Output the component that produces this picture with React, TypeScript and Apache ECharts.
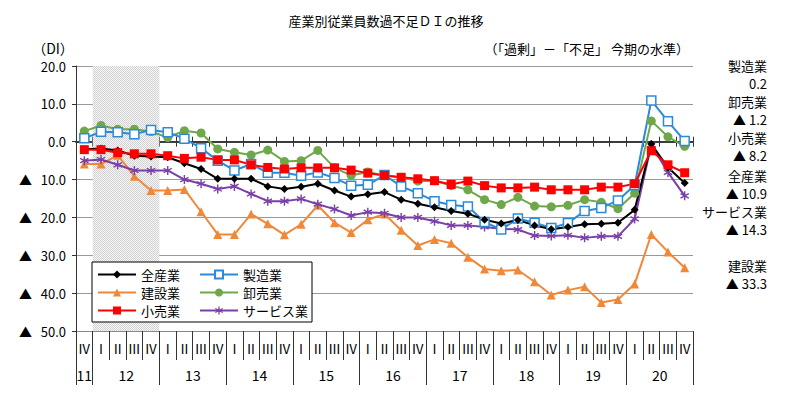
import React, { useEffect, useRef } from 'react';
import * as echarts from 'echarts';

const years = ['11', '12', '13', '14', '15', '16', '17', '18', '19', '20'];
const quarters = ['Ⅰ', 'Ⅱ', 'Ⅲ', 'Ⅳ'];
const categories: string[] = ['11Ⅳ', ...years.slice(1).flatMap((y) => quarters.map((q) => y + q))];

const allIndustry = [-2.0, -1.8, -2.3, -3.7, -3.9, -4.1, -5.7, -7.2, -9.8, -9.8, -9.8, -11.8, -12.5, -11.9, -11.1, -12.9, -14.5, -13.9, -13.3, -15.3, -16.4, -17.3, -18.3, -19.0, -20.6, -21.6, -20.7, -22.1, -23.1, -22.5, -21.8, -21.7, -21.4, -18.0, -0.6, -6.8, -10.9];
const manufacturing = [0.9, 2.6, 2.5, 2.0, 3.1, 2.5, 0.8, -1.7, -5.0, -7.6, -5.9, -8.2, -8.2, -9.0, -8.1, -9.6, -11.6, -11.4, -8.8, -11.8, -13.6, -15.7, -16.7, -17.1, -21.2, -23.2, -20.3, -21.4, -22.8, -21.5, -18.3, -17.5, -15.5, -11.5, 10.9, 5.4, 0.2];
const construction = [-5.9, -5.9, -3.6, -9.1, -12.9, -12.9, -12.6, -18.5, -24.5, -24.5, -19.1, -21.7, -24.6, -21.8, -16.8, -21.4, -24.0, -20.6, -19.1, -23.4, -27.4, -25.8, -26.8, -30.5, -33.6, -34.1, -33.9, -37.0, -40.5, -39.2, -38.3, -42.5, -41.7, -37.6, -24.5, -29.1, -33.3];
const wholesale = [2.8, 4.3, 3.3, 3.3, 2.7, 1.1, 2.9, 2.3, -1.9, -2.8, -3.5, -2.2, -5.2, -5.0, -2.3, -6.9, -8.9, -8.0, -8.9, -9.4, -10.4, -10.3, -11.6, -12.7, -15.3, -16.6, -14.7, -17.0, -17.2, -16.8, -15.3, -16.0, -17.7, -13.6, 5.5, 1.3, -1.2];
const retail = [-2.1, -2.1, -2.9, -3.2, -3.2, -3.7, -4.4, -4.1, -4.8, -4.8, -6.1, -6.8, -7.2, -6.9, -6.9, -6.9, -7.5, -8.3, -8.9, -9.4, -9.8, -10.3, -11.3, -10.4, -11.6, -12.2, -12.2, -12.0, -12.7, -12.7, -12.7, -12.0, -12.0, -11.1, -2.4, -6.1, -8.2];
const services = [-5.0, -4.7, -6.1, -7.6, -7.6, -7.6, -10.0, -11.1, -12.5, -11.8, -13.8, -15.7, -15.7, -15.1, -16.5, -17.8, -19.5, -18.6, -18.9, -20.0, -20.0, -21.0, -22.1, -22.1, -22.5, -23.0, -23.2, -24.8, -24.9, -24.7, -25.4, -25.0, -25.0, -20.4, -0.8, -8.1, -14.3];

const legendOrder = ['全産業', '製造業', '建設業', '卸売業', '小売業', 'サービス業'];
const shadedCategories = [1, 4]; // 2012 I .. 2012 IV

const FONT = "'Noto Sans CJK JP', sans-serif";

function asteriskPath(): string {
  const L = 5;
  const w = 0.75;
  let d = '';
  [0, 60, 120].forEach((deg) => {
    const a = (deg * Math.PI) / 180;
    const ux = Math.sin(a), uy = -Math.cos(a);
    const nx = Math.cos(a), ny = Math.sin(a);
    const pts = [
      [L * ux + w * nx, L * uy + w * ny],
      [L * ux - w * nx, L * uy - w * ny],
      [-L * ux - w * nx, -L * uy - w * ny],
      [-L * ux + w * nx, -L * uy + w * ny],
    ];
    d += 'M' + pts.map((p) => p[0].toFixed(2) + ',' + p[1].toFixed(2)).join('L') + 'Z';
  });
  return 'path://' + d;
}

function fmtVal(v: number): string {
  return v < 0 ? '▲ ' + Math.abs(v).toFixed(1) : v.toFixed(1);
}

export default function App() {
  const ref = useRef<HTMLDivElement>(null);
  useEffect(() => {
    if (!ref.current) return;
    const chart = echarts.init(ref.current, undefined, { renderer: 'svg' });

    const cv = document.createElement('canvas');
    cv.width = 2;
    cv.height = 2;
    const ctx = cv.getContext('2d');
    if (ctx) {
      ctx.fillStyle = '#f6f6f6';
      ctx.fillRect(0, 0, 2, 2);
      ctx.fillStyle = '#d2d2d2';
      ctx.fillRect(0, 0, 1, 1);
      ctx.fillRect(1, 1, 1, 1);
    }

    const lineSeries = (name: string, data: number[], color: string, symbol: string, size: number, extra: any = {}) => ({
      name,
      type: 'line',
      data,
      xAxisIndex: 0,
      yAxisIndex: 0,
      symbol,
      symbolSize: size,
      lineStyle: { color, width: 2 },
      itemStyle: { color },
      ...extra,
    });

    const annotations: [string, number][] = [
      ['製造業', manufacturing[manufacturing.length - 1]],
      ['卸売業', wholesale[wholesale.length - 1]],
      ['小売業', retail[retail.length - 1]],
      ['全産業', allIndustry[allIndustry.length - 1]],
      ['サービス業', services[services.length - 1]],
      ['建設業', construction[construction.length - 1]],
    ];
    const annY = [65, 101, 137, 175, 211, 265];
    const graphicTexts: any[] = [];
    annotations.forEach(([name, v], i) => {
      graphicTexts.push({ type: 'text', x: 767, y: annY[i], style: { text: name, fontSize: 13, fontFamily: FONT, fill: '#000', align: 'right', verticalAlign: 'middle' } });
      graphicTexts.push({ type: 'text', x: 767, y: annY[i] + 18, style: { text: fmtVal(v), fontSize: 13, fontFamily: FONT, fill: '#000', align: 'right', verticalAlign: 'middle' } });
    });

    const option: any = {
      animation: false,
      backgroundColor: '#fff',
      textStyle: { fontFamily: FONT },
      grid: { left: 76, right: 93, top: 66, bottom: 79, containLabel: false },
      graphic: [
        { type: 'text', x: 386, y: 20, style: { text: '産業別従業員数過不足ＤＩの推移', fontSize: 13, fontFamily: FONT, fill: '#000', align: 'center', verticalAlign: 'middle' } },
        { type: 'text', x: 53, y: 48, style: { text: '（DI）', fontSize: 14, fontFamily: FONT, fill: '#000', align: 'center', verticalAlign: 'middle' } },
        { type: 'text', x: 689, y: 48, style: { text: '（「過剰」－「不足」 今期の水準）', fontSize: 13, fontFamily: FONT, fill: '#000', align: 'right', verticalAlign: 'middle' } },
        ...graphicTexts,
      ],
      legend: {
        data: legendOrder,
        left: 92,
        top: 262,
        width: 240,
        orient: 'horizontal',
        itemWidth: 38,
        itemHeight: 10,
        itemGap: 5,
        padding: [6, 4, 5, 5],
        backgroundColor: '#fff',
        borderColor: '#000',
        borderWidth: 1,
        textStyle: { fontSize: 13, lineHeight: 11, width: 53, color: '#000', fontFamily: FONT },
      },
      xAxis: [
        {
          type: 'category',
          data: categories,
          position: 'bottom',
          axisLine: { show: true, onZero: false, lineStyle: { color: '#888', width: 1 } },
          axisTick: { show: true, interval: 0, length: 29, lineStyle: { color: '#333' } },
          axisLabel: { interval: 0, margin: 11, fontSize: 13, color: '#000', fontFamily: FONT, formatter: (v: string) => v.slice(-1) },
          splitLine: { show: false },
        },
        {
          type: 'category',
          data: categories,
          position: 'bottom',
          axisLine: { show: false, onZero: false },
          axisTick: { show: true, interval: (i: number) => i === 0 || (i - 1) % 4 === 0, length: 54, lineStyle: { color: '#333' } },
          axisLabel: {
            interval: 0,
            margin: 37,
            fontSize: 14,
            color: '#000',
            fontFamily: FONT,
            formatter: (v: string, i: number) => {
              if (i === 0) return v.slice(0, 2);
              if ((i - 1) % 4 === 1) return '{s|' + v.slice(0, 2) + '}';
              return '';
            },
            rich: { s: { padding: [0, 0, 0, 17], fontSize: 14, fontFamily: FONT, color: '#000' } },
          },
          splitLine: { show: false },
        },
        {
          type: 'category',
          data: categories,
          position: 'bottom',
          axisLine: { show: true, onZero: true, onZeroAxisIndex: 0, lineStyle: { color: '#333', width: 1.5 } },
          axisTick: { show: true, interval: 0, length: 5, lineStyle: { color: '#333' } },
          axisLabel: { show: false },
          splitLine: { show: false },
        },
        {
          type: 'category',
          data: categories,
          position: 'bottom',
          axisLine: { show: true, onZero: true, onZeroAxisIndex: 0, lineStyle: { color: '#333', width: 1.5 } },
          axisTick: { show: true, inside: true, interval: 0, length: 5, lineStyle: { color: '#333' } },
          axisLabel: { show: false },
          splitLine: { show: false },
        },
        { type: 'value', min: -0.5, max: categories.length - 0.5, show: false, axisLine: { onZero: false } },
      ],
      yAxis: {
        type: 'value',
        min: -50,
        max: 20,
        interval: 10,
        axisLine: { show: true, onZero: false, lineStyle: { color: '#333' } },
        axisTick: { show: true, length: 4, lineStyle: { color: '#333' } },
        splitLine: { show: true, lineStyle: { color: '#999', width: 1 } },
        axisLabel: {
          margin: 10,
          fontSize: 13,
          color: '#000',
          fontFamily: FONT,
          formatter: (v: number) => (v < 0 ? '{t|▲}{n|' + Math.abs(v).toFixed(1) + '}' : '{n|' + v.toFixed(1) + '}'),
          rich: {
            t: { width: 20, align: 'left', fontSize: 13, fontFamily: FONT, color: '#000' },
            n: { width: 27, align: 'right', fontSize: 13, fontFamily: FONT, color: '#000' },
          },
        },
      },
      series: [
        {
          name: 'band',
          type: 'line',
          xAxisIndex: 4,
          yAxisIndex: 0,
          data: [],
          z: 0,
          silent: true,
          markArea: {
            silent: true,
            itemStyle: { color: { image: cv, repeat: 'repeat' } },
            data: [[{ xAxis: shadedCategories[0] - 0.5 }, { xAxis: shadedCategories[1] + 0.5 }]],
          },
        },
        lineSeries('建設業', construction, '#F0883A', 'triangle', 9),
        lineSeries('サービス業', services, '#7B3FA8', asteriskPath(), 9),
        lineSeries('卸売業', wholesale, '#6EA84A', 'circle', 9),
        lineSeries('製造業', manufacturing, '#2D8ADB', 'rect', 9, { itemStyle: { color: '#fff', borderColor: '#2D8ADB', borderWidth: 1.5 } }),
        lineSeries('全産業', allIndustry, '#000000', 'diamond', 8),
        lineSeries('小売業', retail, '#FF0000', 'rect', 9),
      ],
    };
    chart.setOption(option);
    return () => chart.dispose();
  }, []);
  return <div ref={ref} style={{ width: 786, height: 410, position: 'absolute', left: 0, top: 0 }} />;
}
